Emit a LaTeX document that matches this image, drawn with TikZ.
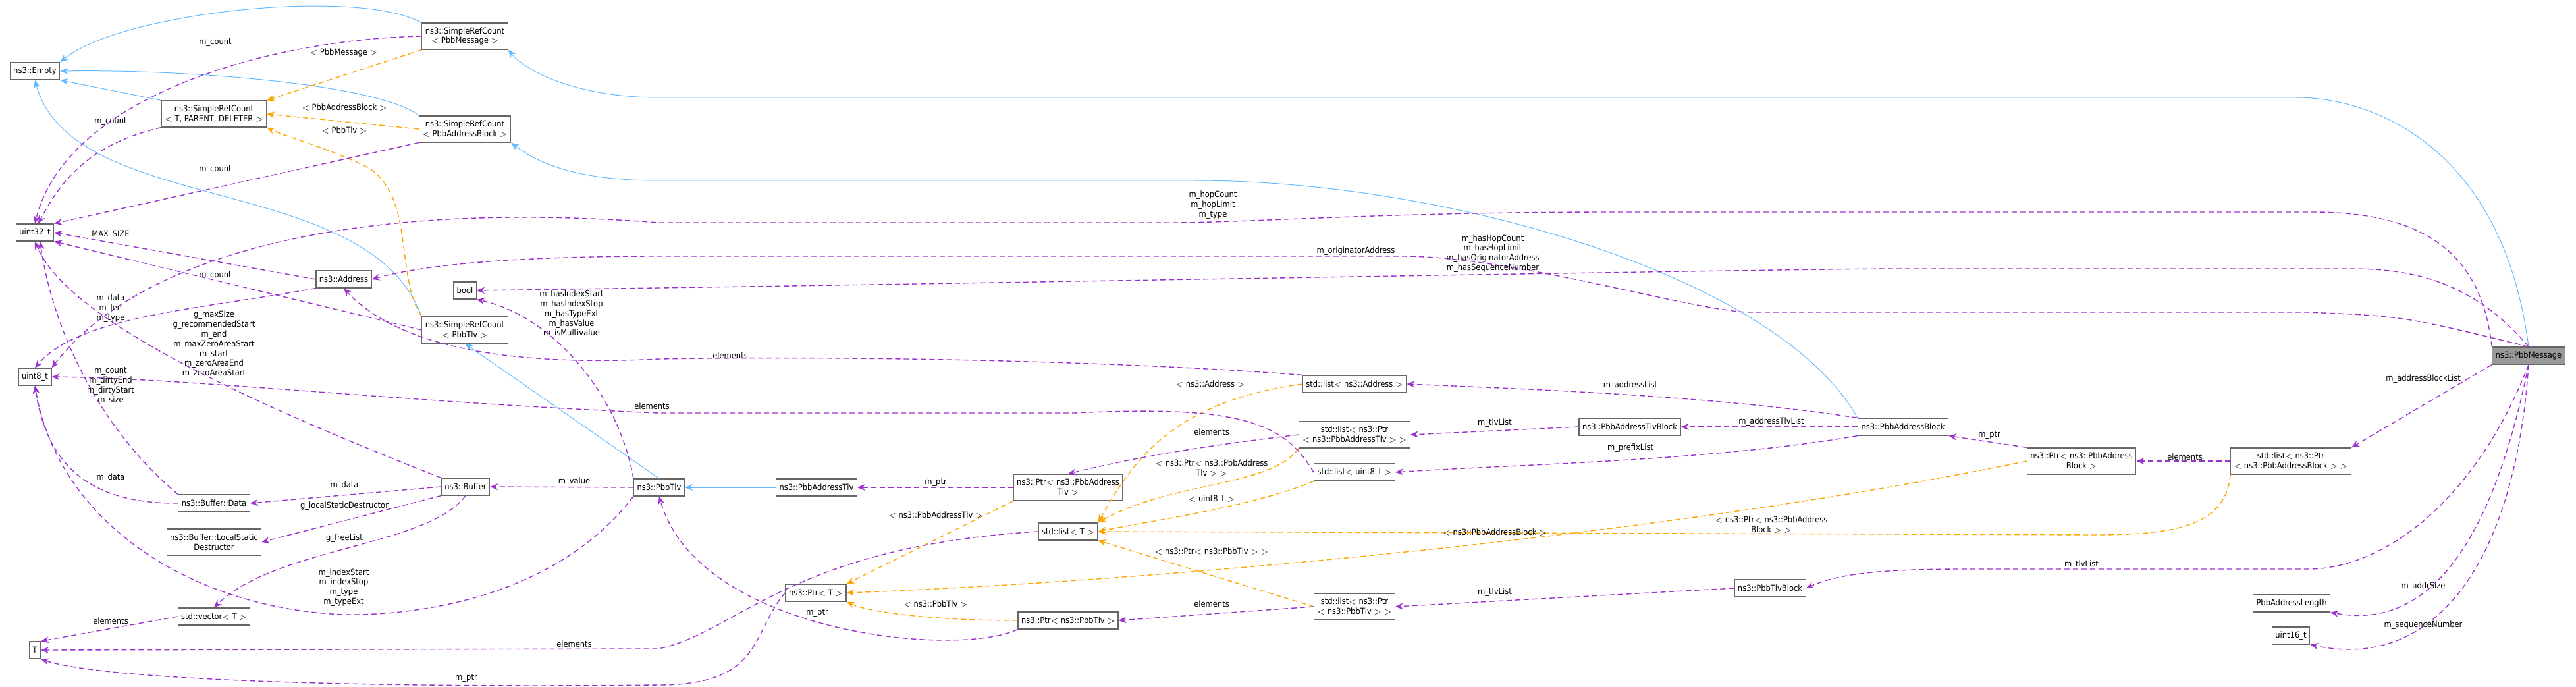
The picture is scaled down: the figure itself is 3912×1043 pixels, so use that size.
\documentclass[tikz,border=0pt]{standalone}
\usepackage{fontspec}
\setmainfont{DejaVu Sans Condensed}
\usetikzlibrary{positioning}
\usetikzlibrary{arrows.meta}
\definecolor{inhblue}{HTML}{63B8FF}
\definecolor{usepurple}{HTML}{9A32CD}
\definecolor{tmplorange}{HTML}{FFA500}
\tikzset{
  cls/.style={draw=black!60, fill=white, line width=0.6pt, inner xsep=2.5pt, inner ysep=0pt, minimum height=13pt, align=center, font=\fontsize{6.4}{7.4}\selectfont},
  cls2/.style={cls, minimum height=20pt},
  lbl/.style={inner sep=0pt, align=center, font=\fontsize{6.4}{7.4}\selectfont},
  inh/.style={draw=inhblue, line width=0.5pt, -{Stealth[length=6pt,width=5pt]}},
  use/.style={draw=usepurple, dashed, line width=0.7pt, dash pattern=on 4pt off 2.5pt, -{Stealth[length=6pt,width=5pt]}},
  tmpl/.style={draw=tmplorange, dashed, line width=0.7pt, dash pattern=on 4pt off 2.5pt, -{Stealth[length=6pt,width=5pt]}}
}
\begin{document}
\begin{tikzpicture}[x=0.5pt,y=-0.5pt]
\useasboundingbox (0,0) rectangle (3912,1043);

% classes
\node[cls] (empty) at (53,108) {ns3::Empty};
\node[cls2] (srcMsg) at (706,55) {ns3::SimpleRefCount\\ $<$ PbbMessage $>$};
\node[cls2] (srcGen) at (325,173) {ns3::SimpleRefCount\\ $<$ T, PARENT, DELETER $>$};
\node[cls2] (srcBlock) at (706,196) {ns3::SimpleRefCount\\ $<$ PbbAddressBlock $>$};
\node[cls] (u32) at (53,353) {uint32\_t};
\node[cls] (addr) at (522,424) {ns3::Address};
\node[cls] (boolT) at (706,441) {bool};
\node[cls2] (srcTlv) at (706,501) {ns3::SimpleRefCount\\ $<$ PbbTlv $>$};
\node[cls] (u8) at (53,572) {uint8\_t};
\node[cls] (bufData) at (325,764) {ns3::Buffer::Data};
\node[cls] (buffer) at (707,739) {ns3::Buffer};
\node[cls2] (lsd) at (325,823) {ns3::Buffer::LocalStatic\\ Destructor};
\node[cls] (vecT) at (325,936) {std::vector$<$ T $>$};
\node[cls] (tT) at (53,987) {T};
\node[cls] (pbbTlv) at (1001,740) {ns3::PbbTlv};
\node[cls] (addrTlv) at (1240,740) {ns3::PbbAddressTlv};
\node[cls2] (ptrAddrTlv) at (1622,740) {ns3::Ptr$<$ ns3::PbbAddress\\ Tlv $>$};
\node[cls] (listAddr) at (2057,583) {std::list$<$ ns3::Address $>$};
\node[cls2] (listPAT) at (2057,660) {std::list$<$ ns3::Ptr\\ $<$ ns3::PbbAddressTlv $>$ $>$};
\node[cls] (listU8) at (2057,717) {std::list$<$ uint8\_t $>$};
\node[cls] (listT) at (1622,807) {std::list$<$ T $>$};
\node[cls] (ptrT) at (1239,900) {ns3::Ptr$<$ T $>$};
\node[cls] (ptrTlv) at (1622,942) {ns3::Ptr$<$ ns3::PbbTlv $>$};
\node[cls2] (listPTlv) at (2057,921) {std::list$<$ ns3::Ptr\\ $<$ ns3::PbbTlv $>$ $>$};
\node[cls, fill=black!40] (msg) at (3840,540) {ns3::PbbMessage};
\node[cls] (addrTlvBlock) at (2475,648) {ns3::PbbAddressTlvBlock};
\node[cls] (addrBlock) at (2890,648) {ns3::PbbAddressBlock};
\node[cls2] (ptrBlock) at (3161,700) {ns3::Ptr$<$ ns3::PbbAddress\\ Block $>$};
\node[cls2] (listPBlock) at (3479,700) {std::list$<$ ns3::Ptr\\ $<$ ns3::PbbAddressBlock $>$ $>$};
\node[cls] (tlvBlock) at (2688,893) {ns3::PbbTlvBlock};
\node[cls] (addrLen) at (3480,916) {PbbAddressLength};
\node[cls] (u16) at (3479,965) {uint16\_t};

% inheritance
\draw[inh] (srcMsg.north west) .. controls (540,-20) and (180,20) .. (empty.north east);
\draw[inh] (srcGen.north west) -- (empty.south east);
\draw[inh] (srcBlock.north west) .. controls (580,130) and (300,105) .. (empty.east);
\draw[inh] (srcTlv.north west) .. controls (560,260) and (110,330) .. (empty.south);
\draw[inh] (pbbTlv.north) -- (srcTlv.south);
\draw[inh] (addrTlv.west) -- (pbbTlv.east);
\draw[inh] (msg.north) .. controls (3800,220) and (3600,148) .. (3488,148) -- (1000,148) .. controls (880,148) and (800,110) .. (srcMsg.south east);
\draw[inh] (addrBlock.north west) .. controls (2700,420) and (2200,274) .. (1814,274) -- (1000,274) .. controls (880,274) and (820,250) .. (srcBlock.south east);

% templates
\draw[tmpl] (srcMsg.south west) -- (srcGen.north east);
\draw[tmpl] (srcBlock.west) -- (srcGen.east);
\draw[tmpl] (srcTlv.north west) .. controls (600,420) and (630,300) .. (560,255) .. controls (500,225) and (440,210) .. (srcGen.south east);
\draw[tmpl] (listAddr.west) .. controls (1780,610) and (1720,700) .. (listT.north east);
\draw[tmpl] (listPAT.south west) .. controls (1930,740) and (1780,730) .. (listT.north east);
\draw[tmpl] (listU8.south west) .. controls (1900,770) and (1750,790) .. (listT.east);
\draw[tmpl] (listPBlock.south west) .. controls (3380,800) and (3300,812) .. (3181,812) -- (listT.east);
\draw[tmpl] (listPTlv.west) -- (listT.south east);
\draw[tmpl] (ptrAddrTlv.south west) -- (ptrT.north east);
\draw[tmpl] (ptrTlv.west) .. controls (1420,942) and (1320,930) .. (ptrT.south east);
\draw[tmpl] (ptrBlock.west) .. controls (2500,820) and (1700,885) .. (ptrT.east);

% members
\draw[use] (srcMsg.west) .. controls (400,60) and (100,150) .. (u32.north);
\draw[use] (srcGen.south west) .. controls (130,220) and (90,280) .. (u32.70);
\draw[use] (srcBlock.south west) -- (u32.north east);
\draw[use] (srcTlv.west) -- (u32.south east);
\draw[use] (addr.west) -- (u32.east);
\draw[use] (buffer.north west) .. controls (350,600) and (100,480) .. (u32.south);
\draw[use] (bufData.north west) .. controls (150,650) and (80,500) .. (u32.300);
\draw[use] (msg.north west) .. controls (3770,400) and (3700,322) .. (3513,322) -- (2450,322) .. controls (2100,322) and (1900,338) .. (1780,338) -- (1000,338) .. controls (500,300) and (200,400) .. (u8.north east);
\draw[use] (addr.south west) .. controls (300,470) and (120,480) .. (u8.north);
\draw[use] (listU8.west) .. controls (1950,640) and (1880,615) .. (1631,627) -- (1000,627) .. controls (600,610) and (300,575) .. (u8.east);
\draw[use] (bufData.west) .. controls (130,765) and (70,700) .. (u8.south);
\draw[use] (pbbTlv.south west) .. controls (850,900) and (650,935) .. (523,933) .. controls (300,925) and (90,800) .. (u8.south);
\draw[use] (msg.north) .. controls (3650,480) .. (3504,474) -- (2655,474) .. controls (2560,470) and (2300,389) .. (2128,389) -- (1000,389) .. controls (800,389) and (650,400) .. (addr.east);
\draw[use] (listAddr.north west) .. controls (1700,548) and (1300,540) .. (1000,545) .. controls (700,560) and (580,500) .. (addr.south);
\draw[use] (msg.north) .. controls (3750,420) and (3650,408) .. (3569,408) -- (2870,408) .. controls (2600,410) and (1500,430) .. (1000,437) -- (boolT.east);
\draw[use] (pbbTlv.north west) .. controls (940,600) and (840,480) .. (boolT.south east);
\draw[use] (buffer.west) -- (bufData.east);
\draw[use] (buffer.south west) -- (lsd.east);
\draw[use] (buffer.south) .. controls (650,830) and (420,830) .. (vecT.north);
\draw[use] (pbbTlv.west) -- (buffer.east);
\draw[use] (vecT.west) -- (tT.north east);
\draw[use] (listT.west) .. controls (1200,830) and (1120,960) .. (1000,985) -- (tT.east);
\draw[use] (ptrT.west) .. controls (1140,960) and (1160,1040) .. (1000,1040) .. controls (500,1045) and (150,1030) .. (tT.south east);
\draw[use] (ptrTlv.south west) .. controls (1450,1000) and (1060,960) .. (pbbTlv.south);
\draw[use] (ptrAddrTlv.west) -- (addrTlv.east);
\draw[use] (listPAT.west) .. controls (1800,680) and (1700,700) .. (ptrAddrTlv.north);
\draw[use] (listPTlv.west) -- (ptrTlv.east);
\draw[use] (addrBlock.north west) .. controls (2600,600) and (2300,590) .. (listAddr.east);
\draw[use] (addrBlock.west) -- (addrTlvBlock.east);
\draw[use] (addrTlvBlock.west) -- (listPAT.east);
\draw[use] (addrBlock.south west) .. controls (2600,700) and (2300,705) .. (listU8.east);
\draw[use] (ptrBlock.north west) -- (addrBlock.south east);
\draw[use] (listPBlock.west) -- (ptrBlock.east);
\draw[use] (msg.south west) -- (listPBlock.north east);
\draw[use] (msg.south) .. controls (3760,760) and (3620,864) .. (3505,864) -- (2979,864) .. controls (2850,864) and (2790,872) .. (tlvBlock.east);
\draw[use] (tlvBlock.west) -- (listPTlv.east);
\draw[use] (msg.south) .. controls (3790,800) and (3700,960) .. (addrLen.south east);
\draw[use] (msg.south) .. controls (3820,850) and (3700,1020) .. (u16.south east);

% labels
\node[lbl] (lA) at (327,65) {m\_count};
\node[lbl] (lB) at (522,80) {$<$ PbbMessage $>$};
\node[lbl] (lC) at (168,185) {m\_count};
\node[lbl] (lD) at (523,163) {$<$ PbbAddressBlock $>$};
\node[lbl] (lE) at (523,198) {$<$ PbbTlv $>$};
\node[lbl] (lF) at (327,258) {m\_count};
\node[lbl] (lG) at (168,356) {MAX\_SIZE};
\node[lbl] (lH) at (327,419) {m\_count};
\node[lbl] (lI) at (168,468) {m\_data\\m\_len\\m\_type};
\node[lbl] (lJ) at (325,523) {g\_maxSize\\g\_recommendedStart\\m\_end\\m\_maxZeroAreaStart\\m\_start\\m\_zeroAreaEnd\\m\_zeroAreaStart};
\node[lbl] (lK) at (868,477) {m\_hasIndexStart\\m\_hasIndexStop\\m\_hasTypeExt\\m\_hasValue\\m\_isMultivalue};
\node[lbl] (lL) at (168,586) {m\_count\\m\_dirtyEnd\\m\_dirtyStart\\m\_size};
\node[lbl] (lM) at (168,725) {m\_data};
\node[lbl] (lN) at (523,737) {m\_data};
\node[lbl] (lO) at (523,768) {g\_localStaticDestructor};
\node[lbl] (lP) at (523,817) {g\_freeList};
\node[lbl] (lQ) at (522,892) {m\_indexStart\\m\_indexStop\\m\_type\\m\_typeExt};
\node[lbl] (lR) at (872,731) {m\_value};
\node[lbl] (lS) at (168,943) {elements};
\node[lbl] (lT) at (872,978) {elements};
\node[lbl] (lU) at (708,1030) {m\_ptr};
\node[lbl] (lV) at (1421,733) {m\_ptr};
\node[lbl] (lW) at (1109,540) {elements};
\node[lbl] (lX) at (990,617) {elements};
\node[lbl] (lY) at (1838,583) {$<$ ns3::Address $>$};
\node[lbl] (lZ) at (1840,656) {elements};
\node[lbl] (la) at (1840,711) {$<$ ns3::Ptr$<$ ns3::PbbAddress\\Tlv $>$ $>$};
\node[lbl] (lb) at (1840,758) {$<$ uint8\_t $>$};
\node[lbl] (lc) at (1421,782) {$<$ ns3::PbbAddressTlv $>$};
\node[lbl] (ld) at (1840,837) {$<$ ns3::Ptr$<$ ns3::PbbTlv $>$ $>$};
\node[lbl] (le) at (1421,917) {$<$ ns3::PbbTlv $>$};
\node[lbl] (lf) at (1840,917) {elements};
\node[lbl] (lg) at (1241,931) {m\_ptr};
\node[lbl] (lh) at (1842,311) {m\_hopCount\\m\_hopLimit\\m\_type};
\node[lbl] (li) at (2059,381) {m\_originatorAddress};
\node[lbl] (lj) at (2267,385) {m\_hasHopCount\\m\_hasHopLimit\\m\_hasOriginatorAddress\\m\_hasSequenceNumber};
\node[lbl] (lk) at (2476,585) {m\_addressList};
\node[lbl] (ll) at (2270,642) {m\_tlvList};
\node[lbl] (lm) at (2690,640) {m\_addressTlvList};
\node[lbl] (ln) at (2476,680) {m\_prefixList};
\node[lbl] (lo) at (3021,661) {m\_ptr};
\node[lbl] (lp) at (3318,694) {elements};
\node[lbl] (lq) at (3680,575) {m\_addressBlockList};
\node[lbl] (lr) at (2270,808) {$<$ ns3::PbbAddressBlock $>$};
\node[lbl] (ls) at (2690,797) {$<$ ns3::Ptr$<$ ns3::PbbAddress\\Block $>$ $>$};
\node[lbl] (lt) at (3161,857) {m\_tlvList};
\node[lbl] (lu) at (2270,899) {m\_tlvList};
\node[lbl] (lv) at (3680,890) {m\_addrSize};
\node[lbl] (lw) at (3680,949) {m\_sequenceNumber};
\end{tikzpicture}
\end{document}
